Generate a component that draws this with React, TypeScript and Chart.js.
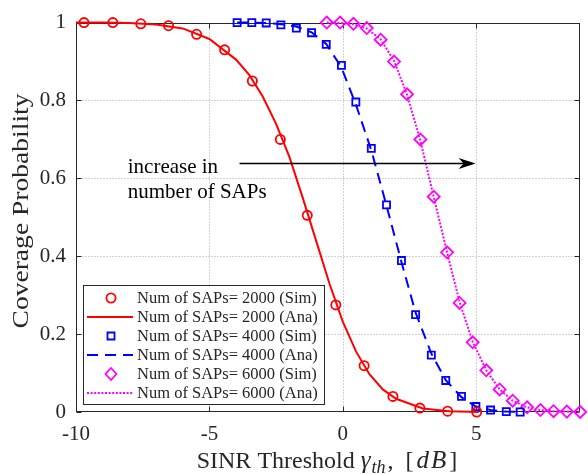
import React, { useEffect, useRef } from "react";
import { Chart, registerables } from "chart.js";

Chart.register(...registerables);

// ---- axes ----
const X_MIN = -10;
const X_MAX = 8.9;
const Y_MIN = 0;
const Y_MAX = 1;
const X_TICKS = [-10, -5, 0, 5];
const X_TICK_LABELS = ["-10", "-5", "0", "5"];
const Y_TICKS = [0, 0.2, 0.4, 0.6, 0.8, 1];
const Y_TICK_LABELS = ["0", "0.2", "0.4", "0.6", "0.8", "1"];

// ---- Num of SAPs = 2000 ----
const SIM_2000_X = [-9.7, -8.62, -7.57, -6.53, -5.48, -4.43, -3.39, -2.34, -1.33, -0.26, 0.8, 1.88, 2.89, 3.93, 5.02];
const SIM_2000_Y = [1, 1, 0.997, 0.992, 0.97, 0.93, 0.85, 0.7, 0.505, 0.275, 0.119, 0.04, 0.01, 0.002, 0];
const ANA_2000_X = [-10, -9, -8, -7, -6, -5, -4, -3.5, -3, -2.5, -2, -1.5, -1, -0.5, 0, 0.5, 1, 1.5, 2, 3, 4, 5.1];
const ANA_2000_Y = [1, 1, 0.999, 0.995, 0.985, 0.958, 0.905, 0.865, 0.81, 0.74, 0.655, 0.55, 0.44, 0.33, 0.232, 0.155, 0.097, 0.058, 0.034, 0.009, 0.002, 0];

// ---- Num of SAPs = 4000 ----
const SIM_4000_X = [-3.96, -3.41, -2.87, -2.32, -1.74, -1.17, -0.62, -0.05, 0.49, 1.07, 1.64, 2.2, 2.73, 3.32, 3.86, 4.45, 4.99, 5.54, 6.13, 6.65];
const SIM_4000_Y = [1, 1, 0.999, 0.994, 0.986, 0.974, 0.944, 0.89, 0.796, 0.677, 0.532, 0.389, 0.25, 0.146, 0.081, 0.04, 0.014, 0.005, 0.001, 0];
const ANA_4000_X = [-3.96, -3.41, -2.87, -2.32, -1.74, -1.17, -0.62, -0.05, 0.49, 1.07, 1.64, 2.2, 2.73, 3.32, 3.86, 4.45, 4.99, 5.54, 6.13, 6.65];
const ANA_4000_Y = [1, 1, 0.999, 0.996, 0.99, 0.975, 0.945, 0.885, 0.79, 0.672, 0.53, 0.385, 0.255, 0.15, 0.082, 0.038, 0.014, 0.005, 0.001, 0];

// ---- Num of SAPs = 6000 ----
const SIM_6000_X = [-0.6, -0.1, 0.4, 0.9, 1.42, 1.92, 2.41, 2.91, 3.41, 3.91, 4.38, 4.87, 5.38, 5.88, 6.37, 6.91, 7.41, 7.9, 8.4, 8.9];
const SIM_6000_Y = [1, 1, 0.997, 0.986, 0.956, 0.9, 0.816, 0.7, 0.553, 0.41, 0.28, 0.179, 0.107, 0.058, 0.029, 0.012, 0.005, 0.002, 0.001, 0];
const ANA_6000_X = [-0.6, -0.1, 0.4, 0.9, 1.42, 1.92, 2.41, 2.91, 3.41, 3.91, 4.38, 4.87, 5.38, 5.88, 6.37, 6.91, 7.41, 7.9, 8.4, 8.9];
const ANA_6000_Y = [1, 0.999, 0.996, 0.985, 0.957, 0.902, 0.815, 0.697, 0.552, 0.41, 0.282, 0.18, 0.107, 0.058, 0.029, 0.012, 0.005, 0.002, 0.001, 0];

// ---- labels / annotation ----
const LEGEND_LABELS = [
  "Num of SAPs= 2000 (Sim)",
  "Num of SAPs= 2000 (Ana)",
  "Num of SAPs= 4000 (Sim)",
  "Num of SAPs= 4000 (Ana)",
  "Num of SAPs= 6000 (Sim)",
  "Num of SAPs= 6000 (Ana)",
];
const Y_TITLE = "Coverage Probability";
const ANNOT_LINES = ["increase in", "number of SAPs"];
const ANNOT_X = -8.06;
const ANNOT_Y = [0.613, 0.549];
const ARROW_FROM = { x: -3.87, y: 0.638 };
const ARROW_TO = { x: 4.98, y: 0.638 };

const RED = "#ff0000";
const BLUE = "#0000ff";
const MAGENTA = "#ff00ff";
const INK = "#262626";
const SERIF = '"Liberation Serif", "Times New Roman", serif';

const DASH_BLUE = [11, 7];
const DASH_MAG = [2, 1.6];

const zip = (xs: number[], ys: number[]) => xs.map((x, i) => ({ x, y: ys[i] }));

function drawMarker(ctx: CanvasRenderingContext2D, kind: string, x: number, y: number, color: string) {
  ctx.save();
  ctx.strokeStyle = color;
  ctx.lineWidth = 1.8;
  ctx.setLineDash([]);
  ctx.beginPath();
  if (kind === "circle") {
    ctx.arc(x, y, 4.6, 0, Math.PI * 2);
  } else if (kind === "square") {
    ctx.rect(x - 3.5, y - 3.5, 7, 7);
  } else {
    ctx.moveTo(x, y - 6);
    ctx.lineTo(x + 5.5, y);
    ctx.lineTo(x, y + 6);
    ctx.lineTo(x - 5.5, y);
    ctx.closePath();
  }
  ctx.stroke();
  ctx.restore();
}

const LEGEND_STYLE = [
  { type: "marker", kind: "circle", color: RED },
  { type: "line", dash: [] as number[], color: RED },
  { type: "marker", kind: "square", color: BLUE },
  { type: "line", dash: DASH_BLUE, color: BLUE },
  { type: "marker", kind: "diamond", color: MAGENTA },
  { type: "line", dash: DASH_MAG, color: MAGENTA },
];

const decorPlugin = {
  id: "decor",
  beforeDatasetsDraw(chart: any) {
    const { ctx, chartArea: a, scales } = chart;
    const xs = scales.x;
    const ys = scales.y;
    const L = Math.round(a.left) + 0.5;
    const R = Math.round(a.right) - 0.5;
    const T = Math.round(a.top) + 0.5;
    const B = Math.round(a.bottom) - 0.5;
    ctx.save();
    ctx.lineWidth = 1;
    ctx.strokeStyle = "rgba(38,38,38,0.4)";
    ctx.setLineDash([1, 2]);
    ctx.beginPath();
    X_TICKS.forEach((v) => {
      const p = Math.round(xs.getPixelForValue(v)) + 0.5;
      if (p > L + 2 && p < R - 2) {
        ctx.moveTo(p, T);
        ctx.lineTo(p, B);
      }
    });
    Y_TICKS.forEach((v) => {
      const p = Math.round(ys.getPixelForValue(v)) + 0.5;
      if (p > T + 2 && p < B - 2) {
        ctx.moveTo(L, p);
        ctx.lineTo(R, p);
      }
    });
    ctx.stroke();
    ctx.setLineDash([]);
    ctx.strokeStyle = INK;
    ctx.strokeRect(L, T, R - L, B - T);
    ctx.beginPath();
    X_TICKS.forEach((v) => {
      const p = Math.round(xs.getPixelForValue(v)) + 0.5;
      ctx.moveTo(p, B);
      ctx.lineTo(p, B - 5);
      ctx.moveTo(p, T);
      ctx.lineTo(p, T + 5);
    });
    Y_TICKS.forEach((v) => {
      const p = Math.round(ys.getPixelForValue(v)) + 0.5;
      ctx.moveTo(L, p);
      ctx.lineTo(L + 5, p);
      ctx.moveTo(R, p);
      ctx.lineTo(R - 5, p);
    });
    ctx.stroke();
    ctx.restore();
  },
  afterDraw(chart: any) {
    const { ctx, chartArea: a, scales } = chart;
    const xs = scales.x;
    const ys = scales.y;
    ctx.save();

    // annotation text
    ctx.fillStyle = "#000";
    ctx.font = `21px ${SERIF}`;
    ctx.textAlign = "left";
    ctx.textBaseline = "alphabetic";
    ANNOT_LINES.forEach((t, i) => {
      ctx.fillText(t, xs.getPixelForValue(ANNOT_X), ys.getPixelForValue(ANNOT_Y[i]));
    });

    // arrow
    const ax1 = xs.getPixelForValue(ARROW_FROM.x);
    const ay1 = ys.getPixelForValue(ARROW_FROM.y);
    const ax2 = xs.getPixelForValue(ARROW_TO.x);
    const ay2 = ys.getPixelForValue(ARROW_TO.y);
    ctx.strokeStyle = "#000";
    ctx.lineWidth = 1.6;
    ctx.beginPath();
    ctx.moveTo(ax1, ay1);
    ctx.lineTo(ax2 - 10, ay2);
    ctx.stroke();
    ctx.beginPath();
    ctx.moveTo(ax2, ay2);
    ctx.lineTo(ax2 - 17, ay2 - 5.5);
    ctx.lineTo(ax2 - 12, ay2);
    ctx.lineTo(ax2 - 17, ay2 + 5.5);
    ctx.closePath();
    ctx.fill();

    // legend
    const lx = Math.round(a.left) + 7;
    const lb = Math.round(a.bottom) - 7;
    const lw = 242;
    const lh = 120;
    const lt = lb - lh;
    ctx.fillStyle = "#fff";
    ctx.fillRect(lx, lt, lw, lh);
    ctx.strokeStyle = INK;
    ctx.lineWidth = 1;
    ctx.strokeRect(lx + 0.5, lt + 0.5, lw - 1, lh - 1);
    ctx.font = `16.5px ${SERIF}`;
    ctx.textBaseline = "middle";
    ctx.textAlign = "left";
    LEGEND_LABELS.forEach((label, i) => {
      const cy = lt + 13 + i * 19;
      const st = LEGEND_STYLE[i];
      if (st.type === "marker") {
        drawMarker(ctx, st.kind as string, lx + 28, cy, st.color);
      } else {
        ctx.save();
        ctx.strokeStyle = st.color;
        ctx.lineWidth = 2;
        ctx.setLineDash(st.dash as number[]);
        ctx.beginPath();
        ctx.moveTo(lx + 4, cy);
        ctx.lineTo(lx + 50, cy);
        ctx.stroke();
        ctx.restore();
      }
      ctx.fillStyle = INK;
      ctx.fillText(label, lx + 54, cy + 1);
    });

    // y title
    ctx.save();
    ctx.font = `24px ${SERIF}`;
    ctx.fillStyle = INK;
    ctx.textAlign = "center";
    ctx.textBaseline = "middle";
    const w = ctx.measureText(Y_TITLE).width;
    ctx.translate(22, 211);
    ctx.rotate(-Math.PI / 2);
    ctx.scale(235 / w, 1);
    ctx.fillText(Y_TITLE, 0, 0);
    ctx.restore();

    // x title with math
    const parts = [
      { t: "SINR Threshold ", f: `24px ${SERIF}`, dy: 0, gap: 0 },
      { t: "γ", f: `italic 25px ${SERIF}`, dy: 0, gap: 0 },
      { t: "th", f: `italic 18px ${SERIF}`, dy: 5, gap: 1 },
      { t: ",", f: `24px ${SERIF}`, dy: 0, gap: 2 },
      { t: "[", f: `24px ${SERIF}`, dy: 0, gap: 12 },
      { t: "d", f: `italic 25px ${SERIF}`, dy: 0, gap: 3 },
      { t: "B", f: `italic 25px ${SERIF}`, dy: 0, gap: 2 },
      { t: "]", f: `24px ${SERIF}`, dy: 0, gap: 3 },
    ];
    let total = 0;
    const widths = parts.map((p) => {
      ctx.font = p.f;
      const wd = ctx.measureText(p.t).width;
      total += wd + p.gap;
      return wd;
    });
    let x = 327 - total / 2;
    ctx.fillStyle = INK;
    ctx.textAlign = "left";
    ctx.textBaseline = "alphabetic";
    parts.forEach((p, i) => {
      ctx.font = p.f;
      x += p.gap;
      ctx.fillText(p.t, x, 468 + p.dy);
      x += widths[i];
    });

    ctx.restore();
  },
};

export default function App() {
  const ref = useRef<HTMLCanvasElement | null>(null);
  useEffect(() => {
    if (!ref.current) return;
    const simCommon = { showLine: false, pointBorderWidth: 1.8, pointBackgroundColor: "rgba(0,0,0,0)", clip: false as any };
    const anaCommon = { pointRadius: 0, borderWidth: 2, tension: 0, clip: false as any, fill: false };
    const chart = new Chart(ref.current, {
      type: "line",
      data: {
        datasets: [
          { ...simCommon, label: LEGEND_LABELS[0], data: zip(SIM_2000_X, SIM_2000_Y), pointStyle: "circle", pointRadius: 4.6, borderColor: RED, pointBorderColor: RED },
          { ...anaCommon, label: LEGEND_LABELS[1], data: zip(ANA_2000_X, ANA_2000_Y), borderColor: RED },
          { ...simCommon, label: LEGEND_LABELS[2], data: zip(SIM_4000_X, SIM_4000_Y), pointStyle: "rect", pointRadius: 5, borderColor: BLUE, pointBorderColor: BLUE },
          { ...anaCommon, label: LEGEND_LABELS[3], data: zip(ANA_4000_X, ANA_4000_Y), borderColor: BLUE, borderDash: DASH_BLUE },
          { ...simCommon, label: LEGEND_LABELS[4], data: zip(SIM_6000_X, SIM_6000_Y), pointStyle: "rectRot", pointRadius: 6, borderColor: MAGENTA, pointBorderColor: MAGENTA },
          { ...anaCommon, label: LEGEND_LABELS[5], data: zip(ANA_6000_X, ANA_6000_Y), borderColor: MAGENTA, borderDash: DASH_MAG },
        ] as any,
      },
      options: {
        animation: false,
        responsive: false,
        maintainAspectRatio: false,
        layout: { padding: { top: 17, right: 6, left: 0, bottom: 0 } },
        plugins: { legend: { display: false }, tooltip: { enabled: false }, title: { display: false } },
        scales: {
          x: {
            type: "linear",
            min: X_MIN,
            max: X_MAX,
            afterBuildTicks: (s: any) => {
              s.ticks = X_TICKS.map((v) => ({ value: v }));
            },
            afterFit: (s: any) => {
              s.height = 62;
            },
            grid: { display: false, drawTicks: false },
            border: { display: false },
            ticks: {
              font: { family: SERIF, size: 21 },
              color: INK,
              padding: 10,
              maxRotation: 0,
              autoSkip: false,
              callback: (v: any) => X_TICK_LABELS[X_TICKS.indexOf(Number(v))],
            },
          },
          y: {
            type: "linear",
            min: Y_MIN,
            max: Y_MAX,
            afterBuildTicks: (s: any) => {
              s.ticks = Y_TICKS.map((v) => ({ value: v }));
            },
            afterFit: (s: any) => {
              s.width = 76;
            },
            grid: { display: false, drawTicks: false },
            border: { display: false },
            ticks: {
              font: { family: SERIF, size: 21 },
              color: INK,
              padding: 10,
              autoSkip: false,
              callback: (v: any) => Y_TICK_LABELS[Y_TICKS.indexOf(Number(v))],
            },
          },
        },
      } as any,
      plugins: [decorPlugin],
    });
    return () => chart.destroy();
  }, []);
  return (
    <div style={{ position: "absolute", left: 0, top: 0, width: 588, height: 474, background: "#fff" }}>
      <canvas ref={ref} width={588} height={474} style={{ display: "block", width: 588, height: 474 }} />
    </div>
  );
}
